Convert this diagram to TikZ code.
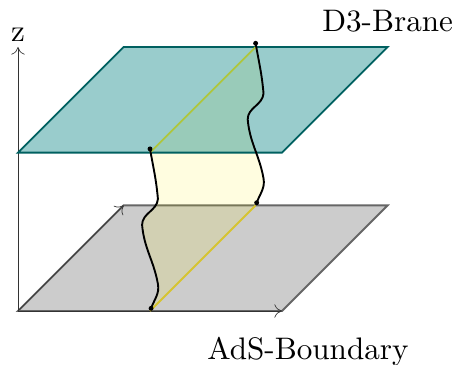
\documentclass[tikz,border=0pt]{standalone}
\usepackage{xcolor}
\usetikzlibrary{positioning,arrows.meta,calc}
\definecolor{bteal}{RGB}{0,128,128}
\definecolor{bedge}{RGB}{0,96,96}
\definecolor{sheetline}{RGB}{214,196,48}
\definecolor{sheetlinetop}{RGB}{175,198,60}
\tikzset{
  axisline/.style={black!80,line width=0.35pt,-{To[length=4pt,width=7pt]}},
  stringline/.style={black,line width=1pt},
  enddot/.style={circle,fill=black,inner sep=0pt,minimum size=2.6pt},
  label/.style={scale=1.64,inner sep=0pt}
}
\begin{document}
\begin{tikzpicture}[x=52.8pt*0.5269,y=52.8pt*0.5269]
  \useasboundingbox (-0.341,-1.004) rectangle (8.295,5.89);
  % corners of the two planes
  \coordinate (o) at (0,0);
  \coordinate (bx) at (5,0);
  \coordinate (bxy) at (7,2);
  \coordinate (by) at (2,2);
  \coordinate (tz) at (0,3);
  \coordinate (tx) at (5,3);
  \coordinate (txy) at (7,5);
  \coordinate (ty) at (2,5);
  \coordinate (zend) at (0,5);
  % boundary plane
  \fill[black!20] (o) -- (bx) -- (bxy) -- (by) -- cycle;
  \draw[black!60,line width=1pt] (o) -- (bx) -- (bxy) -- (by) -- cycle;
  \draw[axisline] (o) -- (bx);
  \draw[axisline] (o) -- (by);
  \draw[axisline] (o) -- (zend);
  % points of the two strings
  \coordinate (ra) at (4.5,5.07);
  \coordinate (rb) at (4.65,4.12);
  \coordinate (rc) at (4.35,3.63);
  \coordinate (rd) at (4.65,2.51);
  \coordinate (re) at (4.52,2.05);
  \coordinate (la) at (2.5,3.07);
  \coordinate (lb) at (2.65,2.12);
  \coordinate (lc) at (2.35,1.63);
  \coordinate (ld) at (2.65,0.51);
  \coordinate (le) at (2.52,0.05);
  \coordinate (rtop) at (4.5,5);
  \coordinate (rbot) at (4.5,2);
  \coordinate (ltop) at (2.5,3);
  \coordinate (lbot) at (2.5,0);
  % worldsheet
  \fill[yellow,opacity=0.12] (ra) to[out=-80,in=95] (rb) to[out=-95,in=90] (rc)
    to[out=-85,in=100] (rd) to[out=-80,in=70] (re) -- (lbot) -- (le)
    to[out=70,in=-80] (ld) to[out=100,in=-85] (lc) to[out=90,in=-95] (lb)
    to[out=95,in=-80] (la) -- (ltop) -- (rtop) -- cycle;
  % brane plane
  \fill[bteal,opacity=0.4] (tz) -- (tx) -- (txy) -- (ty) -- cycle;
  \draw[bedge,line width=1pt] (tz) -- (tx) -- (txy) -- (ty) -- cycle;
  \draw[sheetlinetop,line width=1pt] (ltop) -- (rtop);
  \draw[sheetline,line width=1pt] (lbot) -- (rbot);
  % strings
  \draw[stringline] (ra) to[out=-80,in=95] (rb) to[out=-95,in=90] (rc)
    to[out=-85,in=100] (rd) to[out=-80,in=70] (re);
  \draw[stringline] (la) to[out=-80,in=95] (lb) to[out=-95,in=90] (lc)
    to[out=-85,in=100] (ld) to[out=-80,in=70] (le);
  \node[enddot] (d1) at (ra) {};
  \node[enddot] (d2) at (re) {};
  \node[enddot] (d3) at (la) {};
  \node[enddot] (d4) at (le) {};
  % labels
  \node[label,anchor=base] (zlabel) at (0,5.1) {z};
  \node[label,anchor=base east] (branelabel) at (8.25,5.3) {D3-Brane};
  \node[label,anchor=base] (bdylabel) at (5.49,-0.91) {AdS-Boundary};
\end{tikzpicture}
\end{document}
